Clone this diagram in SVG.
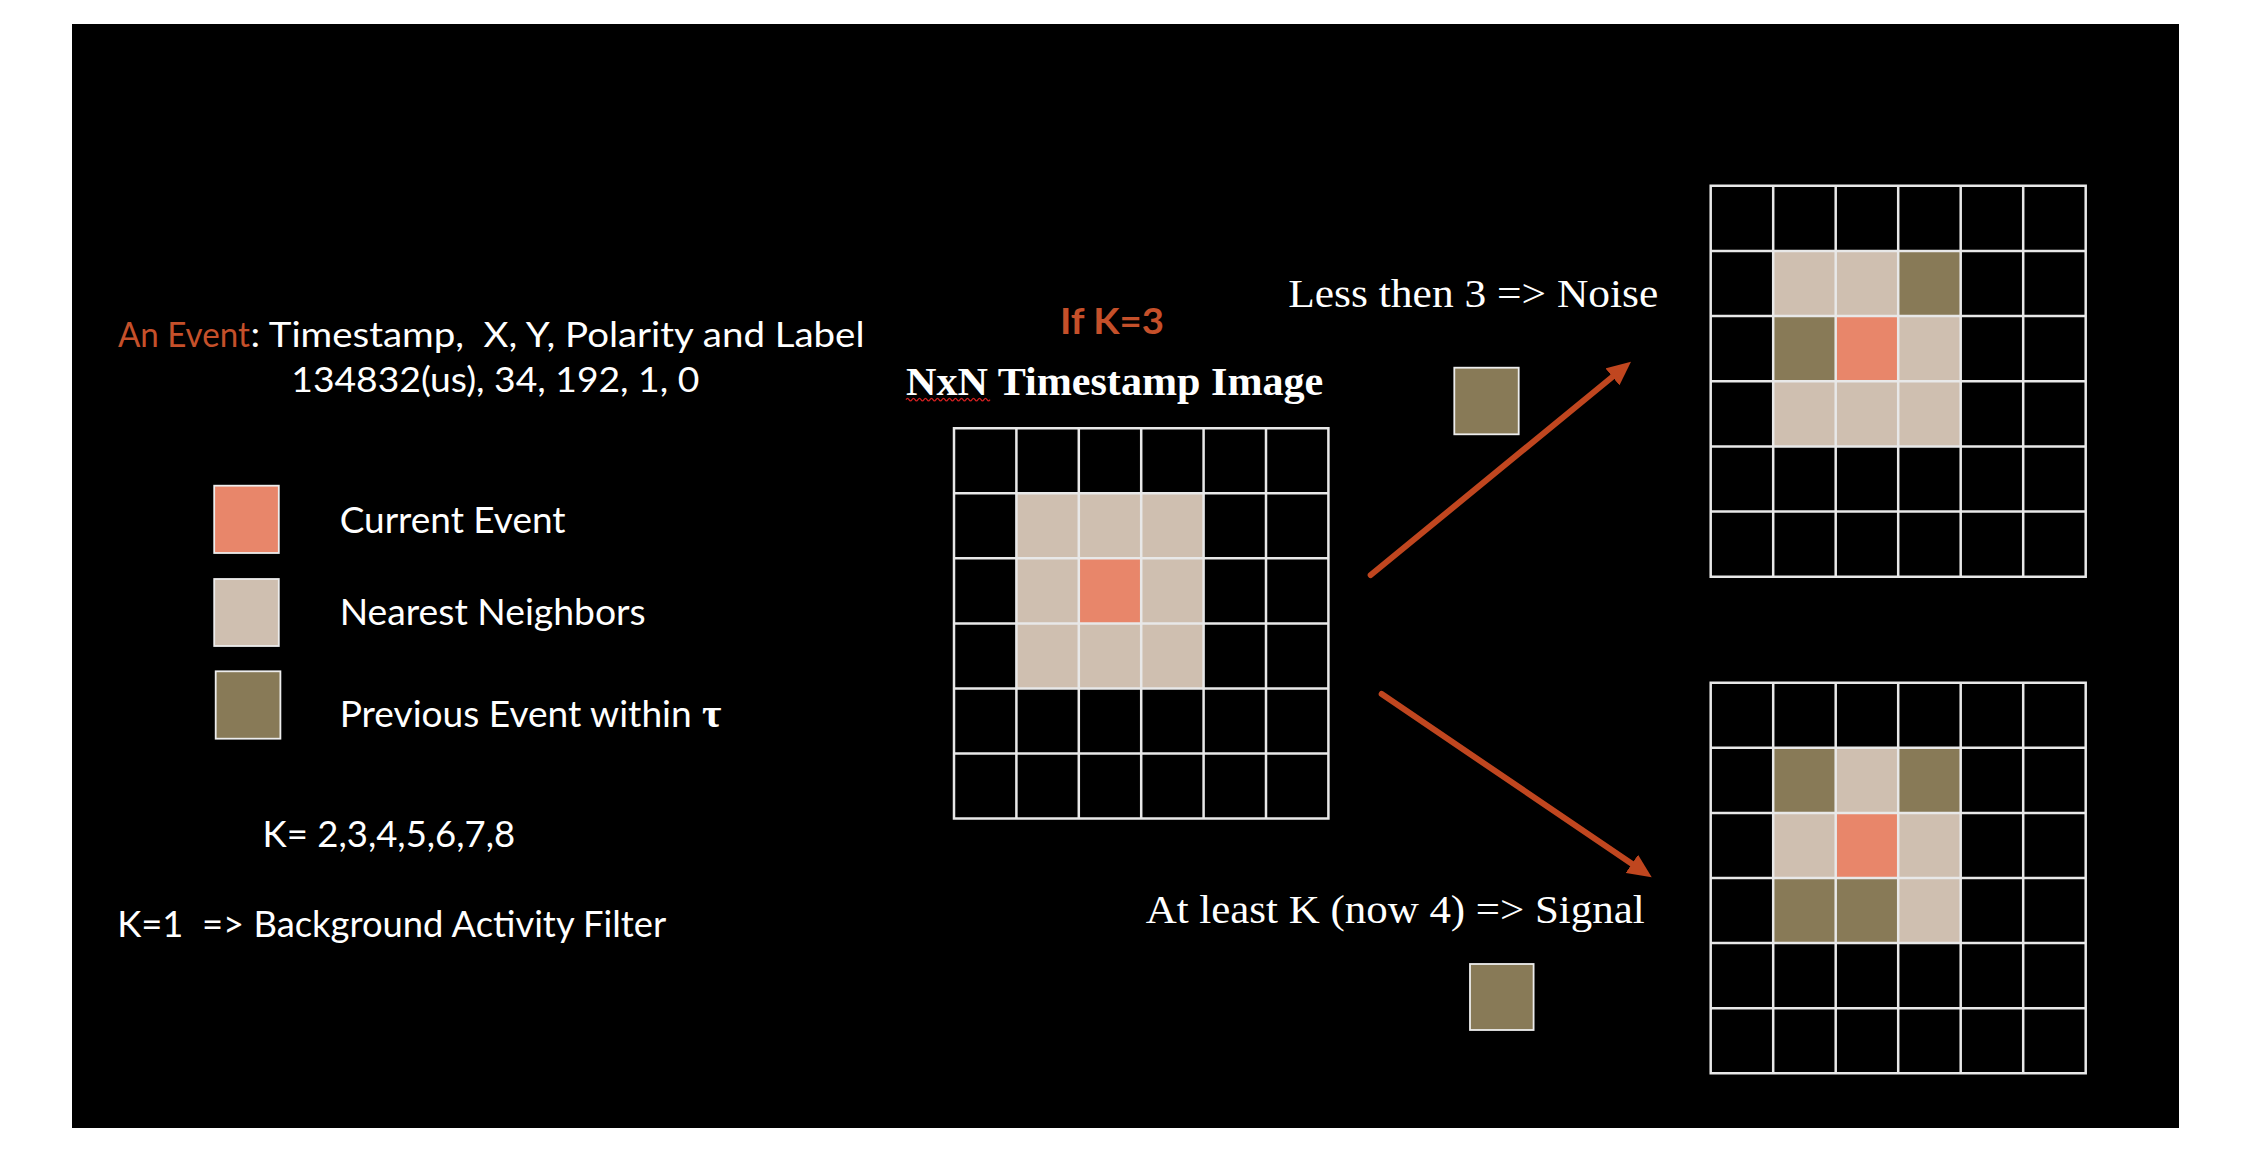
<svg xmlns="http://www.w3.org/2000/svg" width="2252" height="1162" viewBox="0 0 2252 1162">
<style>
.bg{fill:#000}
.sans{font-family:Lato,"Open Sans","Liberation Sans",sans-serif;fill:#fff}
.serif{font-family:"Liberation Serif","DejaVu Serif",serif;fill:#fff}
.or{fill:#C5502A}
.gl{fill:none;stroke:#E8E8E8;stroke-width:2.5}
.cur{fill:#E8866A}
.nb{fill:#CFBFB0}
.pv{fill:#887A57}
.sw{stroke:#EDEDED;stroke-width:1.8}
.arr{fill:none;stroke:#C0461F;stroke-width:6;stroke-linecap:round}
</style>
<defs>
<marker id="ah" markerUnits="userSpaceOnUse" viewBox="0 0 24 22" markerWidth="24" markerHeight="22" refX="12" refY="11" orient="auto">
<path d="M0,0 L24,11 L0,22 z" fill="#C0461F"/>
</marker>
</defs>
<rect width="2252" height="1162" fill="#fff"/>
<rect class="bg" x="72" y="24" width="2107" height="1104"/>

<g id="event-desc">
<text class="sans or" x="117.9" y="347" font-size="35" textLength="132" lengthAdjust="spacingAndGlyphs">An Event</text>
<text class="sans" x="250.5" y="347" font-size="35" style="white-space:pre" textLength="614" lengthAdjust="spacingAndGlyphs">: Timestamp,  X, Y, Polarity and Label</text>
<text class="sans" x="291.3" y="391.7" font-size="35" textLength="408" lengthAdjust="spacingAndGlyphs">134832(us), 34, 192, 1, 0</text>
</g>

<g id="legend-current">
<rect class="cur sw" x="214.2" y="485.7" width="64.6" height="67.3"/>
<text class="sans" x="339.7" y="533.3" font-size="37" textLength="225.8" lengthAdjust="spacingAndGlyphs">Current Event</text>
</g>
<g id="legend-neighbors">
<rect class="nb sw" x="214.2" y="579" width="64.6" height="67"/>
<text class="sans" x="339.7" y="625" font-size="37" textLength="306" lengthAdjust="spacingAndGlyphs">Nearest Neighbors</text>
</g>
<g id="legend-previous">
<rect class="pv sw" x="215.7" y="671.3" width="64.7" height="67.4"/>
<text class="sans" x="339.7" y="726.7" font-size="37" textLength="352" lengthAdjust="spacingAndGlyphs">Previous Event within</text>
<text class="serif" x="702" y="726.7" font-size="42" font-weight="bold">τ</text>
</g>

<g id="k-values">
<text class="sans" x="262.6" y="846.7" font-size="37" textLength="252.6" lengthAdjust="spacingAndGlyphs">K= 2,3,4,5,6,7,8</text>
</g>
<g id="k1-note">
<text class="sans" x="117.2" y="936.7" font-size="37" style="white-space:pre" textLength="549" lengthAdjust="spacingAndGlyphs">K=1  =&gt; Background Activity Filter</text>
</g>

<g id="if-k3">
<text class="sans or" x="1060" y="334.3" font-size="37" font-weight="bold" textLength="104" lengthAdjust="spacingAndGlyphs">If K=3</text>
</g>

<g id="center-grid">
<text class="serif" x="906" y="395" font-size="39" font-weight="bold" textLength="417.3" lengthAdjust="spacingAndGlyphs">NxN Timestamp Image</text>
<path d="M906,399.6 q1.5,-2.5 3,0 t3,0 t3,0 t3,0 t3,0 t3,0 t3,0 t3,0 t3,0 t3,0 t3,0 t3,0 t3,0 t3,0 t3,0 t3,0 t3,0 t3,0 t3,0 t3,0 t3,0 t3,0 t3,0 t3,0 t3,0 t3,0 t3,0 t3,0" fill="none" stroke="#D02020" stroke-width="1.2"/>
<rect class="nb" x="1016.4" y="493.3" width="187.2" height="195.2"/>
<rect class="cur" x="1078.8" y="558.3" width="62.4" height="65.1"/>
<path class="gl" d="M954,428.2 H1328.4 V818.6 H954 Z M1016.4,428.2 V818.6 M1078.8,428.2 V818.6 M1141.2,428.2 V818.6 M1203.6,428.2 V818.6 M1266,428.2 V818.6 M954,493.3 H1328.4 M954,558.3 H1328.4 M954,623.4 H1328.4 M954,688.5 H1328.4 M954,753.6 H1328.4"/>
</g>

<g id="noise-label">
<text class="serif" x="1288.3" y="307.3" font-size="40" textLength="370" lengthAdjust="spacingAndGlyphs">Less then 3 =&gt; Noise</text>
<rect class="pv sw" x="1454.3" y="367.7" width="64.4" height="66.6"/>
</g>

<g id="noise-grid">
<rect class="nb" x="1773.2" y="250.9" width="125" height="65.1"/>
<rect class="pv" x="1898.2" y="250.9" width="62.5" height="65.1"/>
<rect class="pv" x="1773.2" y="316" width="62.5" height="65.2"/>
<rect class="cur" x="1835.7" y="316" width="62.5" height="65.2"/>
<rect class="nb" x="1898.2" y="316" width="62.5" height="65.2"/>
<rect class="nb" x="1773.2" y="381.2" width="187.5" height="65.2"/>
<path class="gl" d="M1710.7,185.7 H2085.7 V576.7 H1710.7 Z M1773.2,185.7 V576.7 M1835.7,185.7 V576.7 M1898.2,185.7 V576.7 M1960.7,185.7 V576.7 M2023.2,185.7 V576.7 M1710.7,250.9 H2085.7 M1710.7,316 H2085.7 M1710.7,381.2 H2085.7 M1710.7,446.4 H2085.7 M1710.7,511.5 H2085.7"/>
</g>

<g id="signal-label">
<text class="serif" x="1145.7" y="922.7" font-size="40" textLength="499" lengthAdjust="spacingAndGlyphs">At least K (now 4) =&gt; Signal</text>
<rect class="pv sw" x="1470" y="964" width="63.6" height="66"/>
</g>

<g id="signal-grid">
<rect class="pv" x="1773.2" y="747.8" width="62.5" height="65.1"/>
<rect class="nb" x="1835.7" y="747.8" width="62.5" height="65.1"/>
<rect class="pv" x="1898.2" y="747.8" width="62.5" height="65.1"/>
<rect class="nb" x="1773.2" y="812.9" width="62.5" height="65.1"/>
<rect class="cur" x="1835.7" y="812.9" width="62.5" height="65.1"/>
<rect class="nb" x="1898.2" y="812.9" width="62.5" height="65.1"/>
<rect class="pv" x="1773.2" y="878" width="125" height="65.1"/>
<rect class="nb" x="1898.2" y="878" width="62.5" height="65.1"/>
<path class="gl" d="M1710.7,682.7 H2085.7 V1073.3 H1710.7 Z M1773.2,682.7 V1073.3 M1835.7,682.7 V1073.3 M1898.2,682.7 V1073.3 M1960.7,682.7 V1073.3 M2023.2,682.7 V1073.3 M1710.7,747.8 H2085.7 M1710.7,812.9 H2085.7 M1710.7,878 H2085.7 M1710.7,943.1 H2085.7 M1710.7,1008.2 H2085.7"/>
</g>

<g id="connectors">
<path class="arr" d="M1370.7,575 L1621.7,369.3" marker-end="url(#ah)"/>
<path class="arr" d="M1381.7,694 L1641.8,870.6" marker-end="url(#ah)"/>
</g>
</svg>
